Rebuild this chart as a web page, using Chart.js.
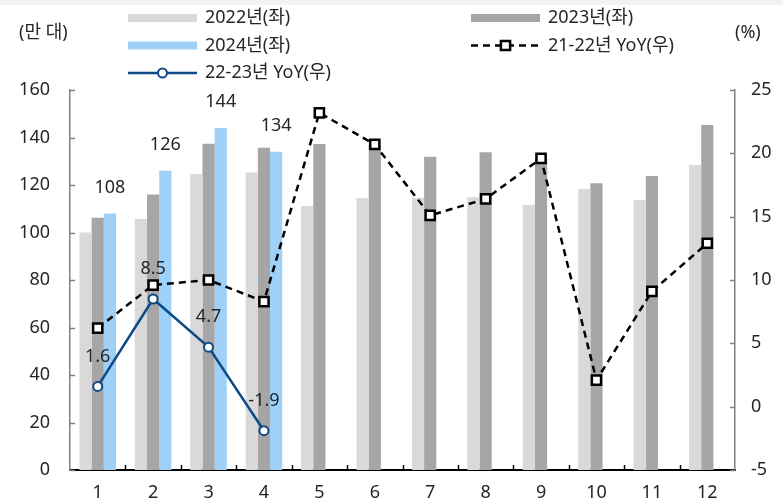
<!DOCTYPE html>
<html>
<head>
<meta charset="utf-8">
<script src="https://cdn.jsdelivr.net/npm/chart.js@4/dist/chart.umd.min.js"></script>
<style>
  html, body { margin: 0; padding: 0; background: #fff; }
  #wrap { width: 783px; height: 503px; }
</style>
</head>
<body>
<div id="wrap"><canvas id="c" width="783" height="503"></canvas></div>
<script>
// Monthly sales (만 대) and year-over-year growth (%)
const months = ['1', '2', '3', '4', '5', '6', '7', '8', '9', '10', '11', '12'];
const sales2022 = [100, 105.7, 124.6, 125.3, 111.2, 114.4, 114.6, 114.8, 111.6, 118.3, 113.7, 128.4];
const sales2023 = [106.2, 116, 137.4, 135.7, 137.3, 136.8, 131.9, 133.8, 131, 120.7, 123.8, 145.3];
const sales2024 = [108, 126, 144, 134, null, null, null, null, null, null, null, null];
const yoy2122 = [6.2, 9.6, 10.0, 8.3, 23.2, 20.7, 15.1, 16.4, 19.6, 2.1, 9.1, 12.9];
const yoy2223 = [1.6, 8.5, 4.7, -1.9, null, null, null, null, null, null, null, null];
const leftTicks = [0, 20, 40, 60, 80, 100, 120, 140, 160];
const rightTicks = [-5, 0, 5, 10, 15, 20, 25];
const seriesNames = ['2022년(좌)', '2023년(좌)', '2024년(좌)', '21-22년 YoY(우)', '22-23년 YoY(우)'];
const leftTitle = '(만 대)';
const rightTitle = '(%)';

const FONT = "'Noto Sans', 'Noto Sans CJK KR', sans-serif";
const TEXT = '#262626';
Chart.defaults.font.family = FONT;
Chart.defaults.font.size = 18;
Chart.defaults.color = TEXT;

function drawMarker(ctx, style, x, y, r, fill, stroke, lw) {
  ctx.save();
  ctx.setLineDash([]);
  ctx.beginPath();
  if (style === 'rect') {
    const s = Math.SQRT1_2 * r;
    ctx.rect(x - s, y - s, 2 * s, 2 * s);
  } else {
    ctx.arc(x, y, r, 0, Math.PI * 2);
  }
  ctx.fillStyle = fill;
  ctx.fill();
  ctx.lineWidth = lw;
  ctx.strokeStyle = stroke;
  ctx.stroke();
  ctx.restore();
}

const framePlugin = {
  id: 'frame',
  beforeDraw(chart) {
    const ctx = chart.ctx;
    ctx.save();
    ctx.fillStyle = '#ffffff';
    ctx.fillRect(0, 0, chart.width, chart.height);
    ctx.fillStyle = '#f2f2f2';
    ctx.fillRect(0, 0, chart.width, 5);
    ctx.restore();
  },
  afterDraw(chart) {
    const ctx = chart.ctx;
    const ca = chart.chartArea;
    const x = chart.scales.x, y = chart.scales.y, y1 = chart.scales.y1;
    ctx.save();
    // inward tick marks
    ctx.lineWidth = 1.5;
    ctx.strokeStyle = '#808080';
    y.ticks.forEach(t => {
      const py = Math.round(y.getPixelForValue(t.value)) + 0.5;
      ctx.beginPath(); ctx.moveTo(ca.left, py); ctx.lineTo(ca.left + 5, py); ctx.stroke();
    });
    y1.ticks.forEach(t => {
      const py = Math.round(y1.getPixelForValue(t.value)) + 0.5;
      ctx.beginPath(); ctx.moveTo(ca.right, py); ctx.lineTo(ca.right - 5, py); ctx.stroke();
    });
    ctx.strokeStyle = '#000';
    for (let i = 1; i < months.length; i++) {
      const px = Math.round((x.getPixelForValue(i - 1) + x.getPixelForValue(i)) / 2) + 0.5;
      ctx.beginPath(); ctx.moveTo(px, ca.bottom); ctx.lineTo(px, ca.bottom - 5); ctx.stroke();
    }

    // axis titles
    ctx.fillStyle = TEXT;
    ctx.font = '18px ' + FONT;
    ctx.textBaseline = 'middle';
    ctx.textAlign = 'left';
    ctx.fillText(leftTitle, 19, 33);
    ctx.fillText(rightTitle, 735, 33);

    // legend: two columns, filled row by row
    const cols = [128, 471];
    const rows = [18, 45.5, 73];
    const sw = 69;
    chart.data.datasets.forEach((ds, i) => {
      const lx = cols[i % 2];
      const ly = rows[Math.floor(i / 2)];
      if (ds.type === 'line') {
        ctx.save();
        ctx.strokeStyle = ds.borderColor;
        ctx.lineWidth = ds.borderWidth;
        ctx.setLineDash(ds.borderDash || []);
        ctx.beginPath(); ctx.moveTo(lx, ly); ctx.lineTo(lx + sw, ly); ctx.stroke();
        ctx.restore();
        drawMarker(ctx, ds.pointStyle, lx + sw / 2, ly, ds.pointRadius, ds.pointBackgroundColor, ds.pointBorderColor, ds.pointBorderWidth);
      } else {
        ctx.fillStyle = ds.backgroundColor;
        ctx.fillRect(lx, ly - 4, sw, 8);
      }
      ctx.fillStyle = TEXT;
      ctx.fillText(ds.label, lx + 77, ly);
    });
    ctx.restore();
  },
  afterDatasetsDraw(chart) {
    const ctx = chart.ctx;
    ctx.save();
    ctx.fillStyle = TEXT;
    ctx.font = '18px ' + FONT;
    ctx.textAlign = 'center';
    ctx.textBaseline = 'middle';
    // values over the 2024 bars
    chart.getDatasetMeta(2).data.forEach((el, i) => {
      const v = sales2024[i];
      if (v == null) return;
      ctx.fillText(String(v), el.x, el.y - 26);
    });
    // values over the 22-23 YoY points
    chart.getDatasetMeta(4).data.forEach((el, i) => {
      const v = yoy2223[i];
      if (v == null) return;
      ctx.fillText(v.toFixed(1), el.x, el.y - 30);
    });
    ctx.restore();
  }
};

new Chart(document.getElementById('c'), {
  type: 'bar',
  data: {
    labels: months,
    datasets: [
      { type: 'bar', label: seriesNames[0], data: sales2022, backgroundColor: '#d9d9d9', yAxisID: 'y', order: 2 },
      { type: 'bar', label: seriesNames[1], data: sales2023, backgroundColor: '#a6a6a6', yAxisID: 'y', order: 2 },
      { type: 'bar', label: seriesNames[2], data: sales2024, backgroundColor: '#9fd1f8', yAxisID: 'y', order: 2 },
      { type: 'line', label: seriesNames[3], data: yoy2122, yAxisID: 'y1', order: 1,
        borderColor: '#000000', borderWidth: 2.5, borderDash: [7, 5],
        pointStyle: 'rect', pointRadius: 6.5, pointBorderWidth: 2.5,
        pointBackgroundColor: '#ffffff', pointBorderColor: '#000000', tension: 0 },
      { type: 'line', label: seriesNames[4], data: yoy2223, yAxisID: 'y1', order: 0,
        borderColor: '#0f4a87', borderWidth: 2.5,
        pointStyle: 'circle', pointRadius: 4.5, pointBorderWidth: 2,
        pointBackgroundColor: '#ffffff', pointBorderColor: '#0f4a87', tension: 0, spanGaps: false }
    ]
  },
  options: {
    responsive: false,
    animation: false,
    events: [],
    layout: { padding: { top: 90, left: 0, right: 0, bottom: 0 } },
    datasets: { bar: { categoryPercentage: 0.66, barPercentage: 1.0 } },
    plugins: { legend: { display: false }, tooltip: { enabled: false } },
    scales: {
      x: {
        grid: { display: false, drawTicks: false },
        border: { display: true, color: '#000000', width: 2 },
        ticks: { padding: 12, color: TEXT, font: { size: 18 } },
        afterFit(s) { s.height = 33; }
      },
      y: {
        position: 'left',
        min: 0, max: 160,
        afterBuildTicks(s) { s.ticks = leftTicks.map(v => ({ value: v })); },
        grid: { display: false, drawTicks: false },
        border: { display: true, color: '#808080', width: 1.5 },
        ticks: { padding: 20, color: TEXT, font: { size: 18 } },
        afterFit(s) { s.width = 70; }
      },
      y1: {
        position: 'right',
        min: -5, max: 25,
        afterBuildTicks(s) { s.ticks = rightTicks.map(v => ({ value: v })); },
        grid: { display: false, drawTicks: false },
        border: { display: true, color: '#808080', width: 1.5 },
        ticks: { padding: 16, color: TEXT, font: { size: 18 } },
        afterFit(s) { s.width = 48; }
      }
    }
  },
  plugins: [framePlugin]
});
</script>
</body>
</html>
